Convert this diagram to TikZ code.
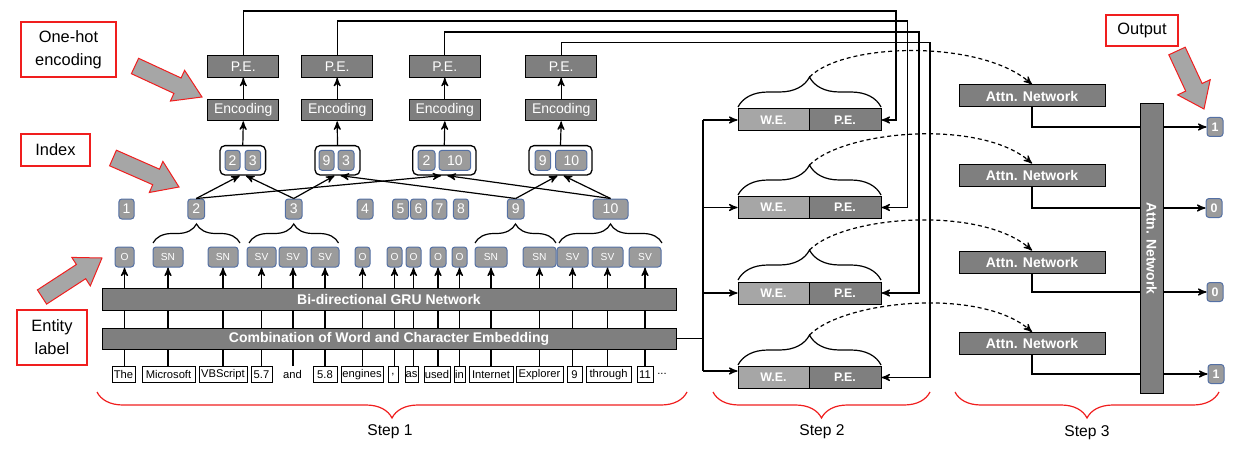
\documentclass[tikz,border=0pt]{standalone}
\usepackage{fontspec}
\setmainfont{Liberation Sans}
\usepackage{tikz}
\usetikzlibrary{arrows}
\usetikzlibrary{decorations.pathreplacing}
\definecolor{boxgray}{RGB}{127,127,127}
\definecolor{lightbox}{RGB}{166,166,166}
\definecolor{idxgray}{RGB}{155,155,155}
\definecolor{idxedge}{RGB}{84,112,164}
\definecolor{callred}{RGB}{240,30,30}
\newcommand{\wordfont}{\fontsize{5.6}{6.5}\selectfont}
\newcommand{\tagfont}{\fontsize{5.1}{6}\selectfont}
\newcommand{\numfont}{\fontsize{7}{8}\selectfont}
\newcommand{\barfont}{\fontsize{7}{8}\selectfont\bfseries}
\newcommand{\webfont}{\fontsize{6.2}{7}\selectfont\bfseries}
\newcommand{\stepfont}{\fontsize{7.8}{9}\selectfont}
\newcommand{\callfont}{\fontsize{8.2}{11.5}\selectfont}
\tikzstyle{arrow} = [->,>=stealth', line width=0.6pt]
\tikzset{
  darkbox/.style={draw=black, fill=boxgray, text=white, inner sep=0pt, line width=0.5pt},
  idx/.style={draw=idxedge, fill=idxgray, text=white, rounded corners=1.5pt, inner sep=0pt, minimum height=10pt, line width=0.5pt, font=\numfont},
  tag/.style={idx, font=\tagfont},
  wordbox/.style={draw=black, inner sep=0pt, minimum height=8pt, line width=0.5pt, font=\wordfont},
  pairbox/.style={draw=black, fill=white, rounded corners=2.5pt, line width=0.65pt, minimum height=14.7pt, inner sep=0pt},
  callout/.style={draw=callred, line width=0.6pt, align=center, inner sep=0pt, font=\callfont},
  bigarrow/.style={fill=lightbox, draw=callred, line width=0.5pt},
  blackbrace/.style={decorate, decoration={brace, amplitude=9.5pt}, line width=0.6pt},
  widebrace/.style={decorate, decoration={brace, amplitude=15pt}, line width=0.6pt},
  stepbrace/.style={decorate, decoration={brace, mirror, amplitude=13pt}, draw=callred, line width=0.6pt},
}
\begin{document}
\begin{tikzpicture}[x=0.5pt, y=-0.5pt]
  \useasboundingbox (0,0) rectangle (1247,449);

  % Callouts with their block arrows
  \node[callout, minimum width=47.5pt, minimum height=27.5pt] (hotlab) at (68.5,49.5) {One-hot\\encoding};
  \node[callout, minimum width=34.5pt, minimum height=16pt] (idxlab) at (55.5,150) {Index};
  \node[callout, minimum width=35pt, minimum height=27.5pt] (entlab) at (52,337.5) {Entity\\label};
  \node[callout, minimum width=36pt, minimum height=15.5pt] (outlab) at (1142,30.5) {Output};
  \draw[bigarrow] (138.6,58.3) -- (181.1,78.0) -- (184.6,70.3) -- (202,97) -- (170.4,101.1) -- (173.9,93.4) -- (131.4,73.7) -- cycle;
  \draw[bigarrow] (116.4,150.2) -- (159.5,169.2) -- (162.9,161.4) -- (179,187) -- (149.3,192.5) -- (152.7,184.7) -- (109.6,165.8) -- cycle;
  \draw[bigarrow] (37.4,289.9) -- (76.4,264.5) -- (71.8,257.4) -- (102,258) -- (90.3,285.9) -- (85.7,278.7) -- (46.6,304.1) -- cycle;
  \draw[bigarrow] (1185.2,47.2) -- (1202.1,83.5) -- (1210.2,79.7) -- (1204,109) -- (1177.6,94.9) -- (1185.7,91.1) -- (1168.8,54.8) -- cycle;

  % Input words
  \node[wordbox, minimum width=11.5pt] (w1) at (123.5,374.5) {The};
  \node[wordbox, minimum width=26.5pt] (w2) at (168.5,374.5) {Microsoft};
  \node[wordbox, minimum width=24pt] (w3) at (223,374.5) {VBScript};
  \node[wordbox, minimum width=10.5pt] (w4) at (261.5,374.5) {5.7};
  \node[wordbox, draw=none, minimum width=12.5pt] (w5) at (292.5,374.5) {and};
  \node[wordbox, minimum width=12pt] (w6) at (325,374.5) {5.8};
  \node[wordbox, minimum width=21pt] (w7) at (362,374.5) {engines};
  \node[wordbox, minimum width=5pt] (w8) at (393,374.5) {,};
  \node[wordbox, minimum width=6.5pt] (w9) at (411.5,374.5) {as};
  \node[wordbox, minimum width=13pt] (w10) at (437,374.5) {used};
  \node[wordbox, minimum width=5.5pt] (w11) at (459.5,374.5) {in};
  \node[wordbox, minimum width=22pt] (w12) at (491,374.5) {Internet};
  \node[wordbox, minimum width=23.5pt] (w13) at (539.5,374.5) {Explorer};
  \node[wordbox, minimum width=7.5pt] (w14) at (574.5,374.5) {9};
  \node[wordbox, minimum width=22.5pt] (w15) at (608.5,374.5) {through};
  \node[wordbox, minimum width=8pt] (w16) at (645,374.5) {11};
  \node[font=\wordfont] (dots) at (662,374) {...};

  % Entity labels
  \node[tag, minimum width=9.5pt] (t1) at (124.5,257) {O};
  \node[tag, minimum width=15pt] (t2) at (168,257) {SN};
  \node[tag, minimum width=15pt] (t3) at (223,257) {SN};
  \node[tag, minimum width=14.5pt] (t4) at (261.5,257) {SV};
  \node[tag, minimum width=14pt] (t5) at (293,257) {SV};
  \node[tag, minimum width=14pt] (t6) at (325,257) {SV};
  \node[tag, minimum width=7.5pt] (t7) at (362.5,257) {O};
  \node[tag, minimum width=7.5pt] (t8) at (394.5,257) {O};
  \node[tag, minimum width=7.5pt] (t9) at (413.5,257) {O};
  \node[tag, minimum width=8pt] (t10) at (438,257) {O};
  \node[tag, minimum width=7.5pt] (t11) at (459.5,257) {O};
  \node[tag, minimum width=16pt] (t12) at (491,257) {SN};
  \node[tag, minimum width=16.5pt] (t13) at (539.5,257) {SN};
  \node[tag, minimum width=15.5pt] (t14) at (572.5,257) {SV};
  \node[tag, minimum width=15.5pt] (t15) at (607.5,257) {SV};
  \node[tag, minimum width=16pt] (t16) at (645,257) {SV};
  \foreach \i in {1,...,16}
    \draw[arrow] (w\i.north -| t\i) -- (t\i.south);

  % Embedding and GRU layers
  \node[darkbox, minimum width=287pt, minimum height=11pt, font=\barfont] (gru) at (389,299) {Bi-directional GRU Network};
  \node[darkbox, minimum width=287pt, minimum height=10.5pt, font=\barfont] (emb) at (389,338.5) {Combination of Word and Character Embedding};

  % Braces over entities
  \draw[blackbrace] (153,243) -- (240,243);
  \draw[blackbrace] (249,243) -- (338.5,243);
  \draw[blackbrace] (475,243) -- (556,243);
  \draw[blackbrace] (559,243) -- (662,243);

  % Word indices
  \node[idx, minimum width=7.6pt] (i1) at (126.5,209) {1};
  \node[idx, minimum width=8.4pt] (i2) at (196.2,209) {2};
  \node[idx, minimum width=8.4pt] (i3) at (293.7,209) {3};
  \node[idx, minimum width=8pt] (i4) at (365,209) {4};
  \node[idx, minimum width=8pt] (i5) at (400.5,209) {5};
  \node[idx, minimum width=8pt] (i6) at (418.5,209) {6};
  \node[idx, minimum width=7.3pt] (i7) at (439.5,209) {7};
  \node[idx, minimum width=7.6pt] (i8) at (461,209) {8};
  \node[idx, minimum width=8.4pt] (i9) at (515.7,209) {9};
  \node[idx, minimum width=17.5pt] (i10) at (610.5,209) {10};

  % Index pairs
  \node[pairbox, minimum width=22.8pt] (p23) at (242.8,160.3) {};
  \node[idx, minimum width=7.5pt] (p23a) at (232.5,160.3) {2};
  \node[idx, minimum width=7.8pt] (p23b) at (252.8,160.3) {3};
  \node[pairbox, minimum width=22.5pt] (p93) at (337.5,160.3) {};
  \node[idx, minimum width=7.5pt] (p93a) at (326.5,160.3) {9};
  \node[idx, minimum width=8pt] (p93b) at (346,160.3) {3};
  \node[pairbox, minimum width=31.6pt] (p210) at (444.3,160.3) {};
  \node[idx, minimum width=8.5pt] (p210a) at (426.5,160.3) {2};
  \node[idx, minimum width=15.8pt] (p210b) at (454.8,160.3) {10};
  \node[pairbox, minimum width=31.5pt] (p910) at (560.5,160.3) {};
  \node[idx, minimum width=7.8pt] (p910a) at (542.8,160.3) {9};
  \node[idx, minimum width=15.6pt] (p910b) at (571.3,160.3) {10};
  \draw[arrow] (i2.north) -- ([xshift=-1.5pt]p23.south);
  \draw[arrow] (i3.north) -- ([xshift=1.5pt]p23.south);
  \draw[arrow] (i3.north) -- ([xshift=-1.5pt]p93.south);
  \draw[arrow] (i9.north) -- ([xshift=1.5pt]p93.south);
  \draw[arrow] (i2.north) -- ([xshift=-1.5pt]p210.south);
  \draw[arrow] (i10.north) -- ([xshift=1.5pt]p210.south);
  \draw[arrow] (i9.north) -- ([xshift=-1.5pt]p910.south);
  \draw[arrow] (i10.north) -- ([xshift=1.5pt]p910.south);

  % One-hot encoding of the pairs
  \node[darkbox, minimum width=35.5pt, minimum height=10.8pt, font=\numfont] (encA) at (243.3,110) {Encoding};
  \node[darkbox, minimum width=35.5pt, minimum height=10.8pt, font=\numfont] (encB) at (337.2,110) {Encoding};
  \node[darkbox, minimum width=35.5pt, minimum height=10.8pt, font=\numfont] (encC) at (444.8,110) {Encoding};
  \node[darkbox, minimum width=35.5pt, minimum height=10.8pt, font=\numfont] (encD) at (561.2,110) {Encoding};
  \node[darkbox, minimum width=35.5pt, minimum height=10.8pt, font=\numfont] (peA) at (243.3,66.5) {P.E.};
  \node[darkbox, minimum width=35.5pt, minimum height=10.8pt, font=\numfont] (peB) at (337.2,66.5) {P.E.};
  \node[darkbox, minimum width=35.5pt, minimum height=10.8pt, font=\numfont] (peC) at (444.8,66.5) {P.E.};
  \node[darkbox, minimum width=35.5pt, minimum height=10.8pt, font=\numfont] (peD) at (561.2,66.5) {P.E.};
  \draw[arrow] (p23.north) -- (encA.south);
  \draw[arrow] (p93.north) -- (encB.south);
  \draw[arrow] (p210.north) -- (encC.south);
  \draw[arrow] (p910.north) -- (encD.south);
  \draw[arrow] (encA.north) -- (peA.south);
  \draw[arrow] (encB.north) -- (peB.south);
  \draw[arrow] (encC.north) -- (peC.south);
  \draw[arrow] (encD.north) -- (peD.south);

  % Step 2: word and position embeddings
  \node[darkbox, fill=lightbox, minimum width=35.5pt, minimum height=11pt, font=\webfont] (weA) at (773.5,120) {W.E.};
  \node[darkbox, minimum width=36pt, minimum height=11pt, font=\webfont] (speA) at (845,120) {P.E.};
  \node[darkbox, fill=lightbox, minimum width=35.5pt, minimum height=11pt, font=\webfont] (weB) at (773.5,207.5) {W.E.};
  \node[darkbox, minimum width=36pt, minimum height=11pt, font=\webfont] (speB) at (845,207.5) {P.E.};
  \node[darkbox, fill=lightbox, minimum width=35.5pt, minimum height=11pt, font=\webfont] (weC) at (773.5,293) {W.E.};
  \node[darkbox, minimum width=36pt, minimum height=11pt, font=\webfont] (speC) at (845,293) {P.E.};
  \node[darkbox, fill=lightbox, minimum width=35.5pt, minimum height=11pt, font=\webfont] (weD) at (773.5,377.5) {W.E.};
  \node[darkbox, minimum width=36pt, minimum height=11pt, font=\webfont] (speD) at (845,377.5) {P.E.};

  \coordinate (railA) at (896,11);
  \coordinate (railB) at (907.7,21);
  \coordinate (railC) at (919,32);
  \coordinate (railD) at (930,42.7);
  \draw[arrow] (peA.north) |- (railA) |- (speA.east);
  \draw[arrow] (peB.north) |- (railB) |- (speB.east);
  \draw[arrow] (peC.north) |- (railC) |- (speC.east);
  \draw[arrow] (peD.north) |- (railD) |- (speD.east);

  \coordinate (busT) at (703,120);
  \coordinate (busB) at (703,371);
  \draw[line width=0.6pt] (emb.east) -- (emb.east -| busT);
  \draw[line width=0.6pt] (busT) -- (busB);
  \draw[arrow] (busT) -- (weA.west);
  \draw[arrow] (weB.west -| busT) -- (weB.west);
  \draw[arrow] (weC.west -| busT) -- (weC.west);
  \draw[arrow] (busB) -- (busB -| weD.west);

  \draw[widebrace] (738,107) -- (881,107);
  \draw[widebrace] (738,195) -- (881,195);
  \draw[widebrace] (738,280) -- (881,280);
  \draw[widebrace] (738,365) -- (881,365);
  \coordinate (tipA) at (809.5,77);
  \coordinate (tipB) at (809.5,165);
  \coordinate (tipC) at (809.5,250);
  \coordinate (tipD) at (809.5,335);

  % Step 3: attention
  \node[darkbox, minimum width=73pt, minimum height=11pt, font=\barfont] (attnA) at (1032,96) {Attn. Network};
  \node[darkbox, minimum width=73pt, minimum height=11pt, font=\barfont] (attnB) at (1032,175) {Attn. Network};
  \node[darkbox, minimum width=73pt, minimum height=11pt, font=\barfont] (attnC) at (1032,262) {Attn. Network};
  \node[darkbox, minimum width=73pt, minimum height=11pt, font=\barfont] (attnD) at (1032,343.5) {Attn. Network};
  \draw[arrow, dash pattern=on 2pt off 1.5pt] (tipA) .. controls +(35,-35) and +(-50,-45) .. (attnA.north);
  \draw[arrow, dash pattern=on 2pt off 1.5pt] (tipB) .. controls +(35,-35) and +(-50,-45) .. (attnB.north);
  \draw[arrow, dash pattern=on 2pt off 1.5pt] (tipC) .. controls +(35,-35) and +(-50,-45) .. (attnC.north);
  \draw[arrow, dash pattern=on 2pt off 1.5pt] (tipD) .. controls +(35,-35) and +(-50,-45) .. (attnD.north);

  \node[idx, minimum width=8pt, minimum height=9.5pt, font=\webfont] (oA) at (1215,127) {1};
  \node[idx, minimum width=8pt, minimum height=9.5pt, font=\webfont] (oB) at (1214,208) {0};
  \node[idx, minimum width=8pt, minimum height=9.5pt, font=\webfont] (oC) at (1215,292) {0};
  \node[idx, minimum width=8pt, minimum height=9.5pt, font=\webfont] (oD) at (1216,374) {1};
  \draw[arrow] (attnA.south) |- (oA.west);
  \draw[arrow] (attnB.south) |- (oB.west);
  \draw[arrow] (attnC.south) |- (oC.west);
  \draw[arrow] (attnD.south) |- (oD.west);
  \node[darkbox, rotate=-90, minimum width=144.5pt, minimum height=11.5pt, font=\barfont] (attnbar) at (1151.5,248.5) {Attn. Network};

  % Steps
  \draw[stepbrace] (97,392) -- (687,392);
  \node[font=\stepfont] (step1) at (390,432) {Step 1};
  \draw[stepbrace] (713,392) -- (930,392);
  \node[font=\stepfont] (step2) at (822,432) {Step 2};
  \draw[stepbrace] (955,392) -- (1219,392);
  \node[font=\stepfont] (step3) at (1087,433) {Step 3};
\end{tikzpicture}
\end{document}
